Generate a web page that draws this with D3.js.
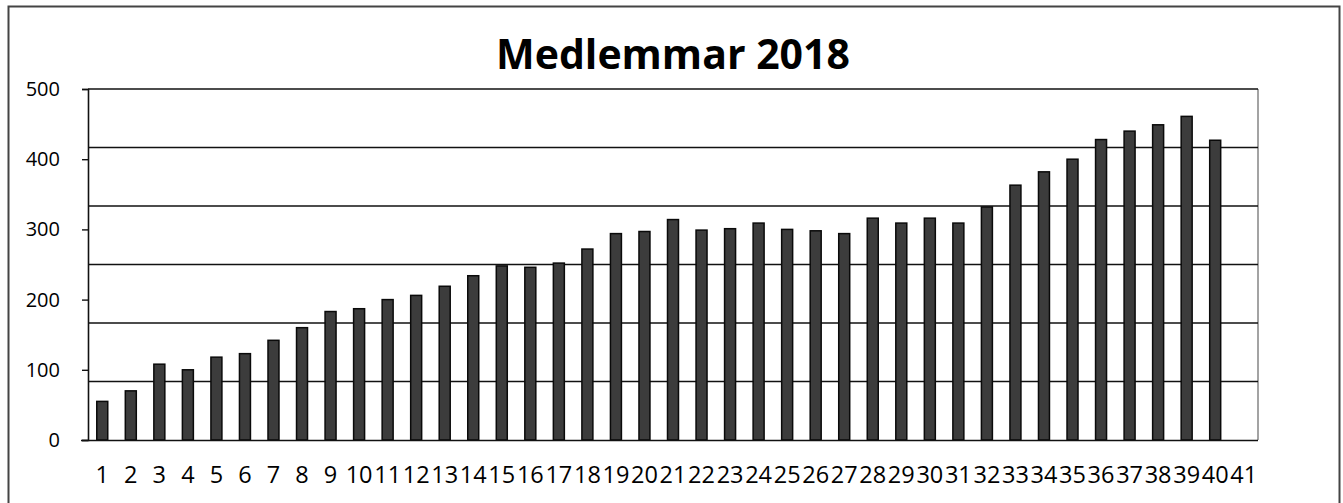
<!DOCTYPE html>
<html>
<head>
<meta charset="utf-8">
<script src="https://cdn.jsdelivr.net/npm/d3@7"></script>
<style>
  html, body { margin: 0; padding: 0; background: #fff; }
  svg { display: block; }
  .tick text { font-family: "Open Sans", sans-serif; fill: #000; }
</style>
</head>
<body>
<div id="chart"></div>
<script>
// Data
const title = "Medlemmar 2018";
const weeks = d3.range(1, 42).map(String);
const members = [
  55, 70, 108, 100, 118, 123, 142, 160, 183, 187,
  200, 206, 219, 234, 248, 246, 252, 272, 294, 297,
  314, 299, 301, 309, 300, 298, 294, 316, 309, 316,
  309, 332, 363, 382, 400, 428, 440, 449, 461, 427,
  null
];
const yTicks = [0, 100, 200, 300, 400, 500];
// gridlines in the original sit at sixths of the axis, not at the ticks
const gridLines = [83.3, 166.7, 250, 333.3, 416.7, 500];

const width = 1343;
const height = 503;
const margin = { top: 89, right: 85, bottom: 63, left: 88 };

const svg = d3
  .select("#chart")
  .append("svg")
  .attr("width", width)
  .attr("height", height);

// outer frame (bottom edge is cut off in the scan)
svg
  .append("rect")
  .attr("x", 8.5)
  .attr("y", 6.5)
  .attr("width", 1331)
  .attr("height", 520)
  .attr("fill", "none")
  .attr("stroke", "#444")
  .attr("stroke-width", 2);

const x = d3
  .scaleBand()
  .domain(weeks)
  .range([margin.left, width - margin.right])
  .paddingInner(0.615)
  .paddingOuter(0.3075);

const y = d3
  .scaleLinear()
  .domain([0, 500])
  .range([height - margin.bottom, margin.top]);

// title
svg
  .append("text")
  .attr("x", (margin.left + width - margin.right) / 2)
  .attr("y", 69)
  .attr("text-anchor", "middle")
  .style("font-family", "'Open Sans', sans-serif")
  .style("font-weight", "700")
  .style("font-size", "41px")
  .style("fill", "#000")
  .text(title);

// right border of plot area
svg
  .append("line")
  .attr("x1", width - margin.right)
  .attr("x2", width - margin.right)
  .attr("y1", y(500))
  .attr("y2", y(0))
  .attr("stroke", "#666")
  .attr("stroke-width", 1.2);

// gridlines
svg
  .append("g")
  .selectAll("line")
  .data(gridLines)
  .join("line")
  .attr("x1", margin.left)
  .attr("x2", width - margin.right)
  .attr("y1", (d) => y(d))
  .attr("y2", (d) => y(d))
  .attr("stroke", "#111")
  .attr("stroke-width", 1.6);

// bars
svg
  .append("g")
  .selectAll("rect")
  .data(weeks.map((w, i) => ({ week: w, value: members[i] })).filter((d) => d.value != null))
  .join("rect")
  .attr("x", (d) => x(d.week))
  .attr("y", (d) => y(d.value))
  .attr("width", x.bandwidth())
  .attr("height", (d) => y(0) - y(d.value))
  .attr("fill", "#3c3c3c")
  .attr("stroke", "#0a0a0a")
  .attr("stroke-width", 1.5);

// y axis
const yAxis = svg
  .append("g")
  .attr("transform", `translate(${margin.left},0)`)
  .call(d3.axisLeft(y).tickValues(yTicks).tickSize(6).tickPadding(22));
yAxis.select(".domain").attr("stroke", "#111").attr("stroke-width", 1.6);
yAxis.selectAll(".tick line").attr("stroke", "#111").attr("stroke-width", 1.4);
yAxis.selectAll(".tick text").style("font-size", "20px");

// x axis
const xAxis = svg
  .append("g")
  .attr("transform", `translate(0,${y(0)})`)
  .call(d3.axisBottom(x).tickSize(0).tickPadding(26));
xAxis
  .select(".domain")
  .attr("d", `M${margin.left - 7},0.5H${width - margin.right}`)
  .attr("stroke", "#111")
  .attr("stroke-width", 1.6);
xAxis.selectAll(".tick text").style("font-size", "23.5px");
</script>
</body>
</html>
